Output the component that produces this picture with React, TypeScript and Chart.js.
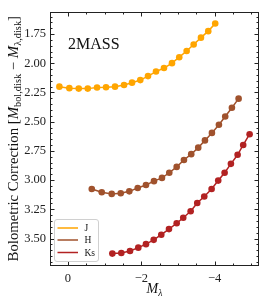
import React, { useEffect, useRef } from 'react';
import { Chart, registerables } from 'chart.js';

Chart.register(...registerables);

// ---- data ----
const jX = [0.234, -0.038, -0.294, -0.54, -0.793, -1.038, -1.283, -1.529, -1.747, -1.973, -2.183, -2.401, -2.619, -2.837, -3.035, -3.237, -3.428, -3.627, -3.826, -4.016];
const jY = [2.2, 2.213, 2.217, 2.217, 2.208, 2.205, 2.2, 2.186, 2.166, 2.144, 2.11, 2.071, 2.041, 1.999, 1.948, 1.895, 1.84, 1.781, 1.725, 1.66];
const hX = [-0.649, -0.921, -1.193, -1.439, -1.673, -1.902, -2.128, -2.346, -2.564, -2.763, -2.965, -3.163, -3.362, -3.553, -3.736, -3.926, -4.117, -4.289, -4.471, -4.654];
const hY = [3.076, 3.104, 3.118, 3.113, 3.096, 3.067, 3.042, 3.009, 2.981, 2.937, 2.887, 2.828, 2.778, 2.722, 2.66, 2.596, 2.526, 2.456, 2.381, 2.303];
const ksX = [-1.21, -1.455, -1.692, -1.918, -2.128, -2.338, -2.545, -2.755, -2.965, -3.144, -3.346, -3.526, -3.717, -3.918, -4.098, -4.272, -4.444, -4.627, -4.779, -4.954];
const ksY = [3.629, 3.624, 3.607, 3.578, 3.548, 3.511, 3.467, 3.419, 3.369, 3.322, 3.266, 3.196, 3.14, 3.076, 3.004, 2.937, 2.861, 2.783, 2.699, 2.607];
const seriesLabels = ['J', 'H', 'Ks'];
const seriesColors = ['#ffa500', '#a0522d', '#b22222'];
const xTickValues = [0, -2, -4];
const yTickValues = [1.75, 2.0, 2.25, 2.5, 2.75, 3.0, 3.25, 3.5];
const panelLabel = '2MASS';

const SERIF = "'Liberation Serif', 'DejaVu Serif', serif";

function toPoints(xs: number[], ys: number[]) {
  return xs.map((x, i) => ({ x, y: ys[i] }));
}

const decorPlugin = {
  id: 'decor',
  afterDraw(chart: any) {
    const { ctx, chartArea: a, scales } = chart;
    const xs = scales.x;
    const ys = scales.y;
    ctx.save();
    // frame
    ctx.strokeStyle = '#222';
    ctx.lineWidth = 1;
    const L = Math.round(a.left) + 0.5;
    const R = Math.round(a.right) - 0.5;
    const T = Math.round(a.top) + 0.5;
    const B = Math.round(a.bottom) - 0.5;
    ctx.strokeRect(L, T, R - L, B - T);
    // ticks
    ctx.beginPath();
    for (let v = -5; v <= 0.5001; v += 0.5) {
      const major = Math.abs(v / 2 - Math.round(v / 2)) < 1e-6;
      const len = major ? 4 : 2;
      const px = Math.round(xs.getPixelForValue(v)) + 0.5;
      if (px < L || px > R) continue;
      ctx.moveTo(px, B); ctx.lineTo(px, B - len);
      ctx.moveTo(px, T); ctx.lineTo(px, T + len);
    }
    for (let i = 32; i <= 74; i++) {
      const v = i * 0.05;
      const major = i % 5 === 0;
      const len = major ? 4 : 2;
      const py = Math.round(ys.getPixelForValue(v)) + 0.5;
      if (py < T || py > B) continue;
      ctx.moveTo(L, py); ctx.lineTo(L + len, py);
      ctx.moveTo(R, py); ctx.lineTo(R - len, py);
    }
    ctx.stroke();

    // panel label
    ctx.fillStyle = '#111';
    ctx.font = `16px ${SERIF}`;
    ctx.textAlign = 'left';
    ctx.textBaseline = 'alphabetic';
    ctx.fillText(panelLabel, 68, 48.5);

    // legend
    const lx = 54.5, ly = 219.5, lw = 44, lh = 42;
    ctx.beginPath();
    if (ctx.roundRect) ctx.roundRect(lx, ly, lw, lh, 2.5); else ctx.rect(lx, ly, lw, lh);
    ctx.fillStyle = 'rgba(255,255,255,0.85)';
    ctx.fill();
    ctx.strokeStyle = '#d0d0d0';
    ctx.lineWidth = 1;
    ctx.stroke();
    const rows = [228, 240, 252.5];
    chart.data.datasets.forEach((ds: any, i: number) => {
      ctx.strokeStyle = ds.borderColor;
      ctx.lineWidth = 1.5;
      ctx.beginPath();
      ctx.moveTo(57.5, rows[i]);
      ctx.lineTo(78, rows[i]);
      ctx.stroke();
      ctx.fillStyle = '#111';
      ctx.font = `9.5px ${SERIF}`;
      ctx.textBaseline = 'middle';
      ctx.fillText(ds.label, 84.5, rows[i] + 0.5);
    });

    // x title
    ctx.textBaseline = 'alphabetic';
    const xc = (a.left + a.right) / 2;
    ctx.font = `italic 14px ${SERIF}`;
    const mW = ctx.measureText('M').width;
    ctx.font = `italic 9.5px ${SERIF}`;
    const lW = ctx.measureText('λ').width;
    const x0 = xc - (mW + lW) / 2;
    ctx.font = `italic 14px ${SERIF}`;
    ctx.fillText('M', x0, 293);
    ctx.font = `italic 9.5px ${SERIF}`;
    ctx.fillText('λ', x0 + mW, 295.5);

    // y title (rotated, mixed fonts)
    const fs = 14.8;
    const sub = fs * 0.7;
    const segs: [string, string, number][] = [
      ['Bolometric Correction [', `${fs}px ${SERIF}`, 0],
      ['M', `italic ${fs}px ${SERIF}`, 0],
      ['bol,disk', `${sub}px ${SERIF}`, fs * 0.2],
      [' − ', `${fs}px ${SERIF}`, 0],
      ['M', `italic ${fs}px ${SERIF}`, 0],
      ['λ,disk', `${sub}px ${SERIF}`, fs * 0.2],
      [']', `${fs}px ${SERIF}`, 0],
    ];
    let total = 0;
    const widths = segs.map(([t, f]) => { ctx.font = f; const w = ctx.measureText(t).width; total += w; return w; });
    ctx.translate(18, (a.top + a.bottom) / 2);
    ctx.rotate(-Math.PI / 2);
    let cx = -total / 2;
    segs.forEach(([t, f, dy], i) => {
      ctx.font = f;
      ctx.fillText(t, cx, dy);
      cx += widths[i];
    });
    ctx.restore();
  },
};

export default function App() {
  const ref = useRef<HTMLCanvasElement | null>(null);
  useEffect(() => {
    if (!ref.current) return;
    const sets = [toPoints(jX, jY), toPoints(hX, hY), toPoints(ksX, ksY)];
    const chart = new Chart(ref.current, {
      type: 'line',
      data: {
        datasets: sets.map((d, i) => ({
          label: seriesLabels[i],
          data: d,
          borderColor: seriesColors[i],
          backgroundColor: seriesColors[i],
          pointBackgroundColor: seriesColors[i],
          pointBorderColor: seriesColors[i],
          pointRadius: 3.3,
          pointBorderWidth: 0,
          borderWidth: 1.5,
          tension: 0,
          fill: false,
        })),
      },
      options: {
        animation: false,
        responsive: false,
        maintainAspectRatio: false,
        layout: { padding: { top: 6, right: 7, left: 0, bottom: 0 } },
        plugins: { legend: { display: false }, tooltip: { enabled: false } },
        scales: {
          x: {
            type: 'linear',
            reverse: true,
            min: -5.21,
            max: 0.49,
            grid: { display: true, drawOnChartArea: false, drawTicks: false },
            border: { display: false },
            afterBuildTicks: (s: any) => { s.ticks = xTickValues.map((v) => ({ value: v })); },
            afterFit: (s: any) => { s.height = 37; },
            ticks: {
              padding: 5,
              color: '#222',
              font: { family: SERIF, size: 12.5 },
              maxRotation: 0,
              callback: (v: any) => (Number(v) === 0 ? '0' : '−' + Math.abs(Number(v)).toString()),
            },
          },
          y: {
            type: 'linear',
            reverse: true,
            min: 1.557,
            max: 3.735,
            grid: { display: true, drawOnChartArea: false, drawTicks: false },
            border: { display: false },
            afterBuildTicks: (s: any) => { s.ticks = yTickValues.map((v) => ({ value: v })); },
            afterFit: (s: any) => { s.width = 50; },
            ticks: {
              padding: 4,
              color: '#222',
              font: { family: SERIF, size: 12.5 },
              callback: (v: any) => Number(v).toFixed(2),
            },
          },
        },
      },
      plugins: [decorPlugin],
    });
    return () => chart.destroy();
  }, []);
  return (
    <div style={{ position: 'fixed', left: 0, top: 0, width: 266, height: 303, background: '#fff' }}>
      <canvas ref={ref} width={266} height={303} style={{ display: 'block', width: 266, height: 303 }} />
    </div>
  );
}
